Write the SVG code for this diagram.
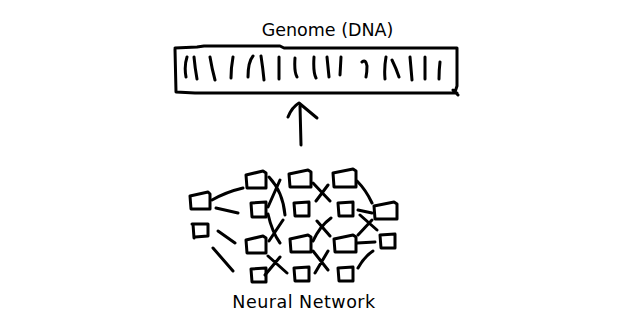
<svg xmlns="http://www.w3.org/2000/svg" width="640" height="320" viewBox="0 0 640 320">
<style>
.s{fill:none;stroke:#000;stroke-width:3;stroke-linecap:round;stroke-linejoin:round}
.t{font-family:"DejaVu Sans",sans-serif;font-size:17.5px;fill:#000;text-anchor:middle}
</style>
<rect width="640" height="320" fill="#fff"/>
<g id="genome">
<text class="t" x="327.5" y="36">Genome (DNA)</text>
<path class="s" d="M175,48 L197,47 L204,46 L280,46 L284,48 L457,48 L457,86 L455,92 M175,49 L176,92 L195,93 L457,93 M453,90 L458,95"/>
<path class="s" d="M187,57 Q184,66 186,77 M194,57 Q195,68 197,79 M210,57 Q212,69 215,80 M233,57 Q231,68 231,78 M253,56 Q248,62 248,77 M261,56 Q263,69 264,80 M279,57 L279,79 M295,58 Q294,72 297,77 M314,57 Q313,72 316,78 M327,57 Q328,67 329,77 M341,57 L340,75 M362,62 Q366,59 367,66 Q367,72 366,77 M386,57 Q384,68 385,79 M392,60 Q396,68 399,77 M410,57 Q411,69 412,80 M425,57 L425,79 M440,62 Q439,70 439,79"/>
</g>
<g id="arrow">
<path class="s" d="M301,145 L300,106 M288,117 Q292,107 299,103 L317,118"/>
</g>
<g id="n00"><path class="s" d="M190,196 L208,192 L210,194 L210,209 L191,209 Z"/></g>
<g id="n01"><path class="s" d="M192,224 L208,224 L208,236 L195,237 M193,224 L194,238"/></g>
<g id="n10"><path class="s" d="M246,175 L263,171 L266,173 L266,188 L247,188 Z"/></g>
<g id="n11"><path class="s" d="M251,203 L266,202 L266,217 L252,217 Z"/></g>
<g id="n12"><path class="s" d="M246,240 L263,236 L266,238 L266,253 L247,253 Z"/></g>
<g id="n13"><path class="s" d="M251,269 L266,268 L266,282 L252,282 Z"/></g>
<g id="n20"><path class="s" d="M289,174 L308,170 L311,172 L311,187 L290,187 Z"/></g>
<g id="n21"><path class="s" d="M294,203 L309,202 L309,216 L295,216 Z"/></g>
<g id="n22"><path class="s" d="M290,239 L308,235 L311,237 L311,252 L291,252 Z"/></g>
<g id="n23"><path class="s" d="M294,268 L309,267 L309,281 L295,281 Z"/></g>
<g id="n30"><path class="s" d="M333,173 L353,169 L356,171 L356,187 L334,187 Z"/></g>
<g id="n31"><path class="s" d="M338,203 L353,202 L353,216 L339,216 Z"/></g>
<g id="n32"><path class="s" d="M334,239 L353,235 L356,237 L356,252 L335,252 Z"/></g>
<g id="n33"><path class="s" d="M338,268 L353,267 L353,281 L339,281 Z"/></g>
<g id="n40"><path class="s" d="M374,206 L394,202 L397,204 L397,219 L375,219 Z"/></g>
<g id="n41"><path class="s" d="M380,235 L395,234 L395,248 L381,248 Z"/></g>
<g id="connectors">
<path class="s" d="M212,200 Q226,192 243,188 M216,208 L238,213 M218,231 L235,243 M213,248 L233,271"/>
<path class="s" d="M269,177 Q283,192 285,215 M280,180 L268,207 M268,214 Q272,232 280,243 M283,220 L269,241 M268,256 L287,273 M280,257 L265,275"/>
<path class="s" d="M313,183 L330,201 M328,185 L316,201 M313,241 Q320,226 331,218 M317,221 L330,236 M313,251 L328,270 M328,251 L315,273"/>
<path class="s" d="M357,181 Q366,190 372,203 M358,210 L372,213 M360,215 L377,230 M372,220 L358,235 M357,243 L375,242 M358,268 Q364,257 373,251"/>
</g>
<text class="t" x="304" y="308" letter-spacing="0.5">Neural Network</text>
</svg>
